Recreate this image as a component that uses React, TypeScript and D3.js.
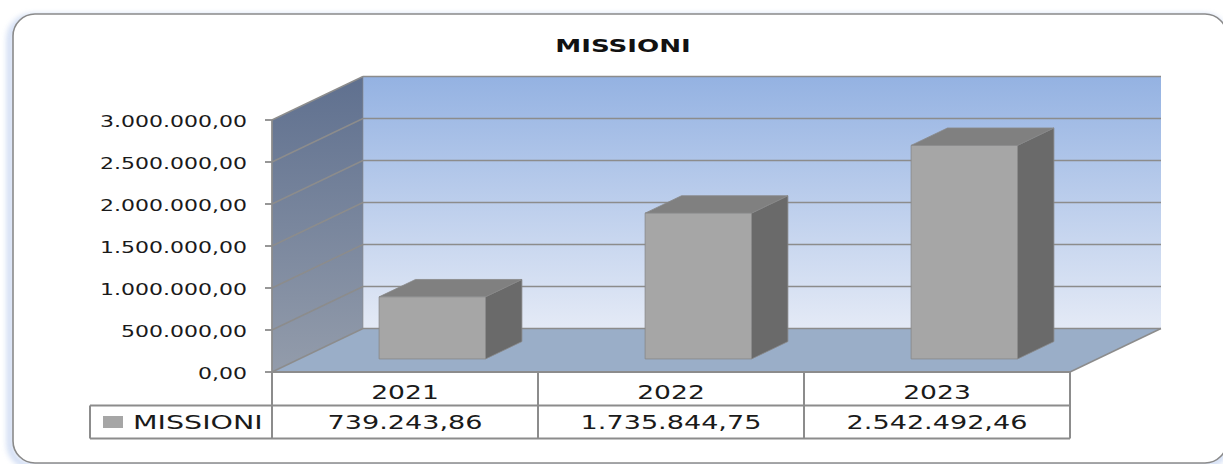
import React from "react";
import * as d3 from "d3";

const title = "MISSIONI";
const seriesName = "MISSIONI";
const categories = ["2021", "2022", "2023"];
const values = [739243.86, 1735844.75, 2542492.46];
const yTicks = [0, 500000, 1000000, 1500000, 2000000, 2500000, 3000000];

const itLocale = d3.formatLocale({ decimal: ",", thousands: ".", grouping: [3], currency: ["", "€"] });
const fmt = itLocale.format(",.2f");

const W = 1223;
const H = 464;
const FONT = "'DejaVu Sans', sans-serif";

export default function App() {
  const x0 = 272, x1 = 1070;
  const DX = 91, DY = -43.5;
  const x = d3.scaleBand<string>().domain(categories).range([x0, x1]).paddingInner(0).paddingOuter(0);
  const y = d3.scaleLinear().domain([0, 3000000]).range([372, 120]);
  const bw = x.bandwidth();
  const dFront = 0.3, dBack = 0.7;
  const barW = bw * 0.4;
  const grid = "#8c8c8c";

  const yTop = y(3000000);
  const yBot = y(0);

  return (
    <svg width={W} height={H} style={{ position: "absolute", left: 0, top: 0, background: "#fff" }}>
      <defs>
        <linearGradient id="backWall" x1="0" y1="0" x2="0" y2="1">
          <stop offset="0" stopColor="#94b2e2" />
          <stop offset="1" stopColor="#e4eaf6" />
        </linearGradient>
        <linearGradient id="sideWall" x1="0" y1="0" x2="0" y2="1">
          <stop offset="0" stopColor="#5f708f" />
          <stop offset="1" stopColor="#939cab" />
        </linearGradient>
        <filter id="glow" x="-5%" y="-5%" width="110%" height="110%">
          <feGaussianBlur stdDeviation="3" />
        </filter>
      </defs>

      {/* chart area */}
      <rect x={10} y={17} width={1216} height={449} rx={22} fill="none" stroke="#6f95dc" strokeWidth={4} opacity={0.55} filter="url(#glow)" />
      <rect x={13} y={14} width={1214} height={449} rx={22} fill="#fff" stroke="#8a8a8a" strokeWidth={1.6} />

      <text
        transform={`translate(623, 52) scale(1.45,1)`}
        textAnchor="middle"
        fontFamily={FONT}
        fontWeight="bold"
        fontSize={18}
        fill="#111"
      >
        {title}
      </text>

      {/* back wall */}
      <rect x={x0 + DX} y={yTop + DY} width={x1 - x0} height={yBot - yTop} fill="url(#backWall)" />
      {/* side wall */}
      <polygon
        points={`${x0},${yTop} ${x0 + DX},${yTop + DY} ${x0 + DX},${yBot + DY} ${x0},${yBot}`}
        fill="url(#sideWall)"
      />
      {/* floor */}
      <polygon
        points={`${x0},${yBot} ${x0 + DX},${yBot + DY} ${x1 + DX},${yBot + DY} ${x1},${yBot}`}
        fill="#9aaec8"
      />
      <line x1={x1} y1={yBot} x2={x1 + DX} y2={yBot + DY} stroke={grid} strokeWidth={1.5} />

      {/* gridlines */}
      {yTicks.map((t) => (
        <g key={"g" + t}>
          <line x1={x0} y1={y(t)} x2={x0 + DX} y2={y(t) + DY} stroke={grid} strokeWidth={1.5} />
          <line x1={x0 + DX} y1={y(t) + DY} x2={x1 + DX} y2={y(t) + DY} stroke={grid} strokeWidth={1.5} />
        </g>
      ))}
      <line x1={x0 + DX} y1={yTop + DY} x2={x0 + DX} y2={yBot + DY} stroke={grid} strokeWidth={1} opacity={0.6} />

      {/* bars */}
      {categories.map((c, i) => {
        const v = values[i];
        const fx = (x(c) as number) + bw * 0.3 + dFront * DX;
        const fy0 = y(0) + dFront * DY;
        const fy1 = y(v) + dFront * DY;
        const ddx = (dBack - dFront) * DX;
        const ddy = (dBack - dFront) * DY;
        return (
          <g key={c} stroke="#888" strokeWidth={0.8} strokeLinejoin="round">
            <polygon
              points={`${fx + barW},${fy1} ${fx + barW + ddx},${fy1 + ddy} ${fx + barW + ddx},${fy0 + ddy} ${fx + barW},${fy0}`}
              fill="#6a6a6a"
            />
            <polygon
              points={`${fx},${fy1} ${fx + ddx},${fy1 + ddy} ${fx + barW + ddx},${fy1 + ddy} ${fx + barW},${fy1}`}
              fill="#808080"
            />
            <rect x={fx} y={fy1} width={barW} height={fy0 - fy1} fill="#a6a6a6" />
          </g>
        );
      })}

      {/* value axis */}
      <line x1={x0} y1={yTop} x2={x0} y2={yBot} stroke={grid} strokeWidth={1.8} />
      {yTicks.map((t) => (
        <g key={"t" + t}>
          <line x1={x0 - 7} y1={y(t)} x2={x0} y2={y(t)} stroke={grid} strokeWidth={1.8} />
          <text
            transform={`translate(247, ${y(t) + 6.5}) scale(1.376,1)`}
            textAnchor="end"
            fontFamily={FONT}
            fontSize={16}
            fill="#1a1a1a"
          >
            {fmt(t)}
          </text>
        </g>
      ))}

      {/* data table */}
      <g stroke={grid} strokeWidth={2} fill="none">
        <line x1={x0} y1={yBot} x2={x1} y2={yBot} />
        <line x1={90} y1={405.5} x2={x1} y2={405.5} />
        <line x1={90} y1={438.5} x2={x1} y2={438.5} />
        <line x1={90} y1={405.5} x2={90} y2={438.5} />
        {categories.map((c) => (
          <line key={"v" + c} x1={x(c) as number} y1={yBot} x2={x(c) as number} y2={438.5} />
        ))}
        <line x1={x1} y1={yBot} x2={x1} y2={438.5} />
      </g>
      <rect x={103} y={416} width={20} height={12} fill="#a6a6a6" />
      <text
        transform={`translate(133, 429) scale(1.5,1)`}
        fontFamily={FONT}
        fontSize={19}
        fill="#1a1a1a"
      >
        {seriesName}
      </text>
      {categories.map((c, i) => {
        const cx = (x(c) as number) + bw / 2;
        return (
          <g key={"tb" + c} fontFamily={FONT} fontSize={19} fill="#1a1a1a" textAnchor="middle">
            <text transform={`translate(${cx}, 399) scale(1.4,1)`}>{c}</text>
            <text transform={`translate(${cx}, 429) scale(1.426,1)`}>{fmt(values[i])}</text>
          </g>
        );
      })}
    </svg>
  );
}
